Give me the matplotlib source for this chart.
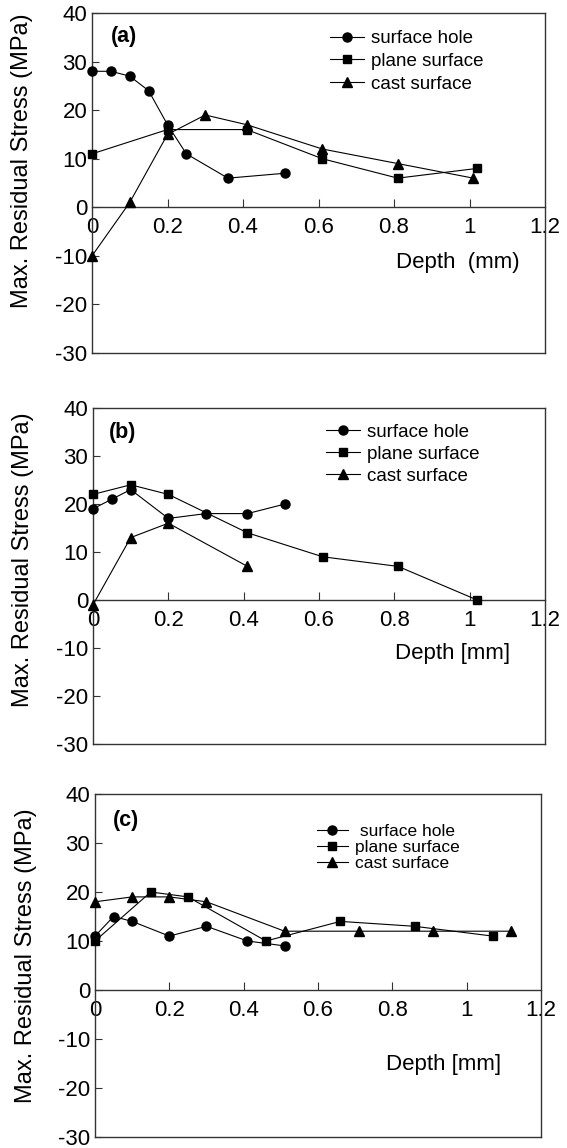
import matplotlib.pyplot as plt

plt.rcParams["font.family"] = ["Liberation Sans", "DejaVu Sans"]
plt.rcParams["axes.unicode_minus"] = False

# panel (a)
a_hole_x = [0, 0.05, 0.1, 0.15, 0.2, 0.25, 0.36, 0.51]
a_hole_y = [28, 28, 27, 24, 17, 11, 6, 7]
a_plane_x = [0, 0.2, 0.41, 0.61, 0.81, 1.02]
a_plane_y = [11, 16, 16, 10, 6, 8]
a_cast_x = [0, 0.1, 0.2, 0.3, 0.41, 0.61, 0.81, 1.01]
a_cast_y = [-10, 1, 15, 19, 17, 12, 9, 6]

# panel (b)
b_hole_x = [0, 0.05, 0.1, 0.2, 0.3, 0.41, 0.51]
b_hole_y = [19, 21, 23, 17, 18, 18, 20]
b_plane_x = [0, 0.1, 0.2, 0.41, 0.61, 0.81, 1.02]
b_plane_y = [22, 24, 22, 14, 9, 7, 0]
b_cast_x = [0, 0.1, 0.2, 0.41]
b_cast_y = [-1, 13, 16, 7]

# panel (c)
c_hole_x = [0, 0.05, 0.1, 0.2, 0.3, 0.41, 0.51]
c_hole_y = [11, 15, 14, 11, 13, 10, 9]
c_plane_x = [0, 0.15, 0.25, 0.46, 0.66, 0.86, 1.07]
c_plane_y = [10, 20, 19, 10, 14, 13, 11]
c_cast_x = [0, 0.1, 0.2, 0.3, 0.51, 0.71, 0.91, 1.12]
c_cast_y = [18, 19, 19, 18, 12, 12, 12, 12]

series_names = ["surface hole", "plane surface", "cast surface"]
x_ticks = [0, 0.2, 0.4, 0.6, 0.8, 1.0, 1.2]
x_tick_labels = ["0", "0.2", "0.4", "0.6", "0.8", "1", "1.2"]
y_ticks = [-30, -20, -10, 0, 10, 20, 30, 40]

W, H = 567, 1148
fig = plt.figure(figsize=(W / 100, H / 100), dpi=100)


def px_axes(left, right, top, bottom):
    return fig.add_axes([left / W, 1 - bottom / H, (right - left) / W, (bottom - top) / H])


panels = [
    dict(box=(92, 545, 13, 353), tag="(a)", tag_xy=(0.07, 0.93),
         data=[(a_hole_x, a_hole_y), (a_plane_x, a_plane_y), (a_cast_x, a_cast_y)],
         names=series_names, depth="Depth  (mm)", depth_xy=(0.97, -11.3),
         leg=dict(anchor=(0.525, 0.95), fs=13.5, spacing=0.3), ylab_y=0.567),
    dict(box=(93, 545, 408, 744), tag="(b)", tag_xy=(0.066, 0.926),
         data=[(b_hole_x, b_hole_y), (b_plane_x, b_plane_y), (b_cast_x, b_cast_y)],
         names=series_names, depth="Depth [mm]", depth_xy=(0.954, -11.1),
         leg=dict(anchor=(0.515, 0.953), fs=13.5, spacing=0.25), ylab_y=0.55),
    dict(box=(95, 541, 794, 1137), tag="(c)", tag_xy=(0.07, 0.924),
         data=[(c_hole_x, c_hole_y), (c_plane_x, c_plane_y), (c_cast_x, c_cast_y)],
         names=[" surface hole", "plane surface", "cast surface"],
         depth="Depth [mm]", depth_xy=(0.937, -15.2),
         leg=dict(anchor=(0.497, 0.912), fs=12.5, spacing=0.05), ylab_y=0.53),
]

markers = [("o", 6.5), ("s", 6), ("^", 7)]

for p in panels:
    ax = px_axes(*p["box"])
    for (xs, ys), (m, ms), name in zip(p["data"], markers, p["names"]):
        ax.plot(xs, ys, color="black", lw=0.8, marker=m, ms=ms,
                mfc="black", mec="black", label=name, clip_on=False, zorder=3)

    ax.set_xlim(0, 1.2)
    ax.set_ylim(-30, 40)
    ax.set_xticks(x_ticks)
    ax.set_xticklabels(x_tick_labels)
    ax.set_yticks(y_ticks)

    # x axis sits on the zero line, the box frame is kept at the bottom
    ax.spines["bottom"].set_position(("data", 0))
    ax.plot([0, 1], [0, 0], transform=ax.transAxes, color="#333333", lw=1.0,
            clip_on=False, zorder=2)
    for s in ax.spines.values():
        s.set_color("#333333")
        s.set_linewidth(1.0)

    ax.tick_params(axis="y", direction="in", length=5, width=0.8, pad=3.5,
                   labelsize=16, color="#333333")
    ax.tick_params(axis="x", direction="in", length=6, width=0.8, pad=7,
                   labelsize=16, color="#333333")
    ax.xaxis.get_major_ticks()[0].tick1line.set_visible(False)
    ax.xaxis.get_major_ticks()[-1].tick1line.set_visible(False)

    ax.set_ylabel("Max. Residual Stress (MPa)", fontsize=17)
    ax.yaxis.set_label_coords(-0.13, p["ylab_y"])

    ax.text(*p["tag_xy"], p["tag"], transform=ax.transAxes, fontsize=15.5,
            fontweight="bold", ha="center", va="center")
    ax.text(*p["depth_xy"], p["depth"], fontsize=16, ha="center", va="center")

    lg = p["leg"]
    ax.legend(loc="upper left", bbox_to_anchor=lg["anchor"], frameon=False,
              fontsize=lg["fs"], handlelength=1.8, handletextpad=0.4,
              labelspacing=lg["spacing"], borderpad=0, borderaxespad=0)

fig.savefig("out.png", dpi=100)
